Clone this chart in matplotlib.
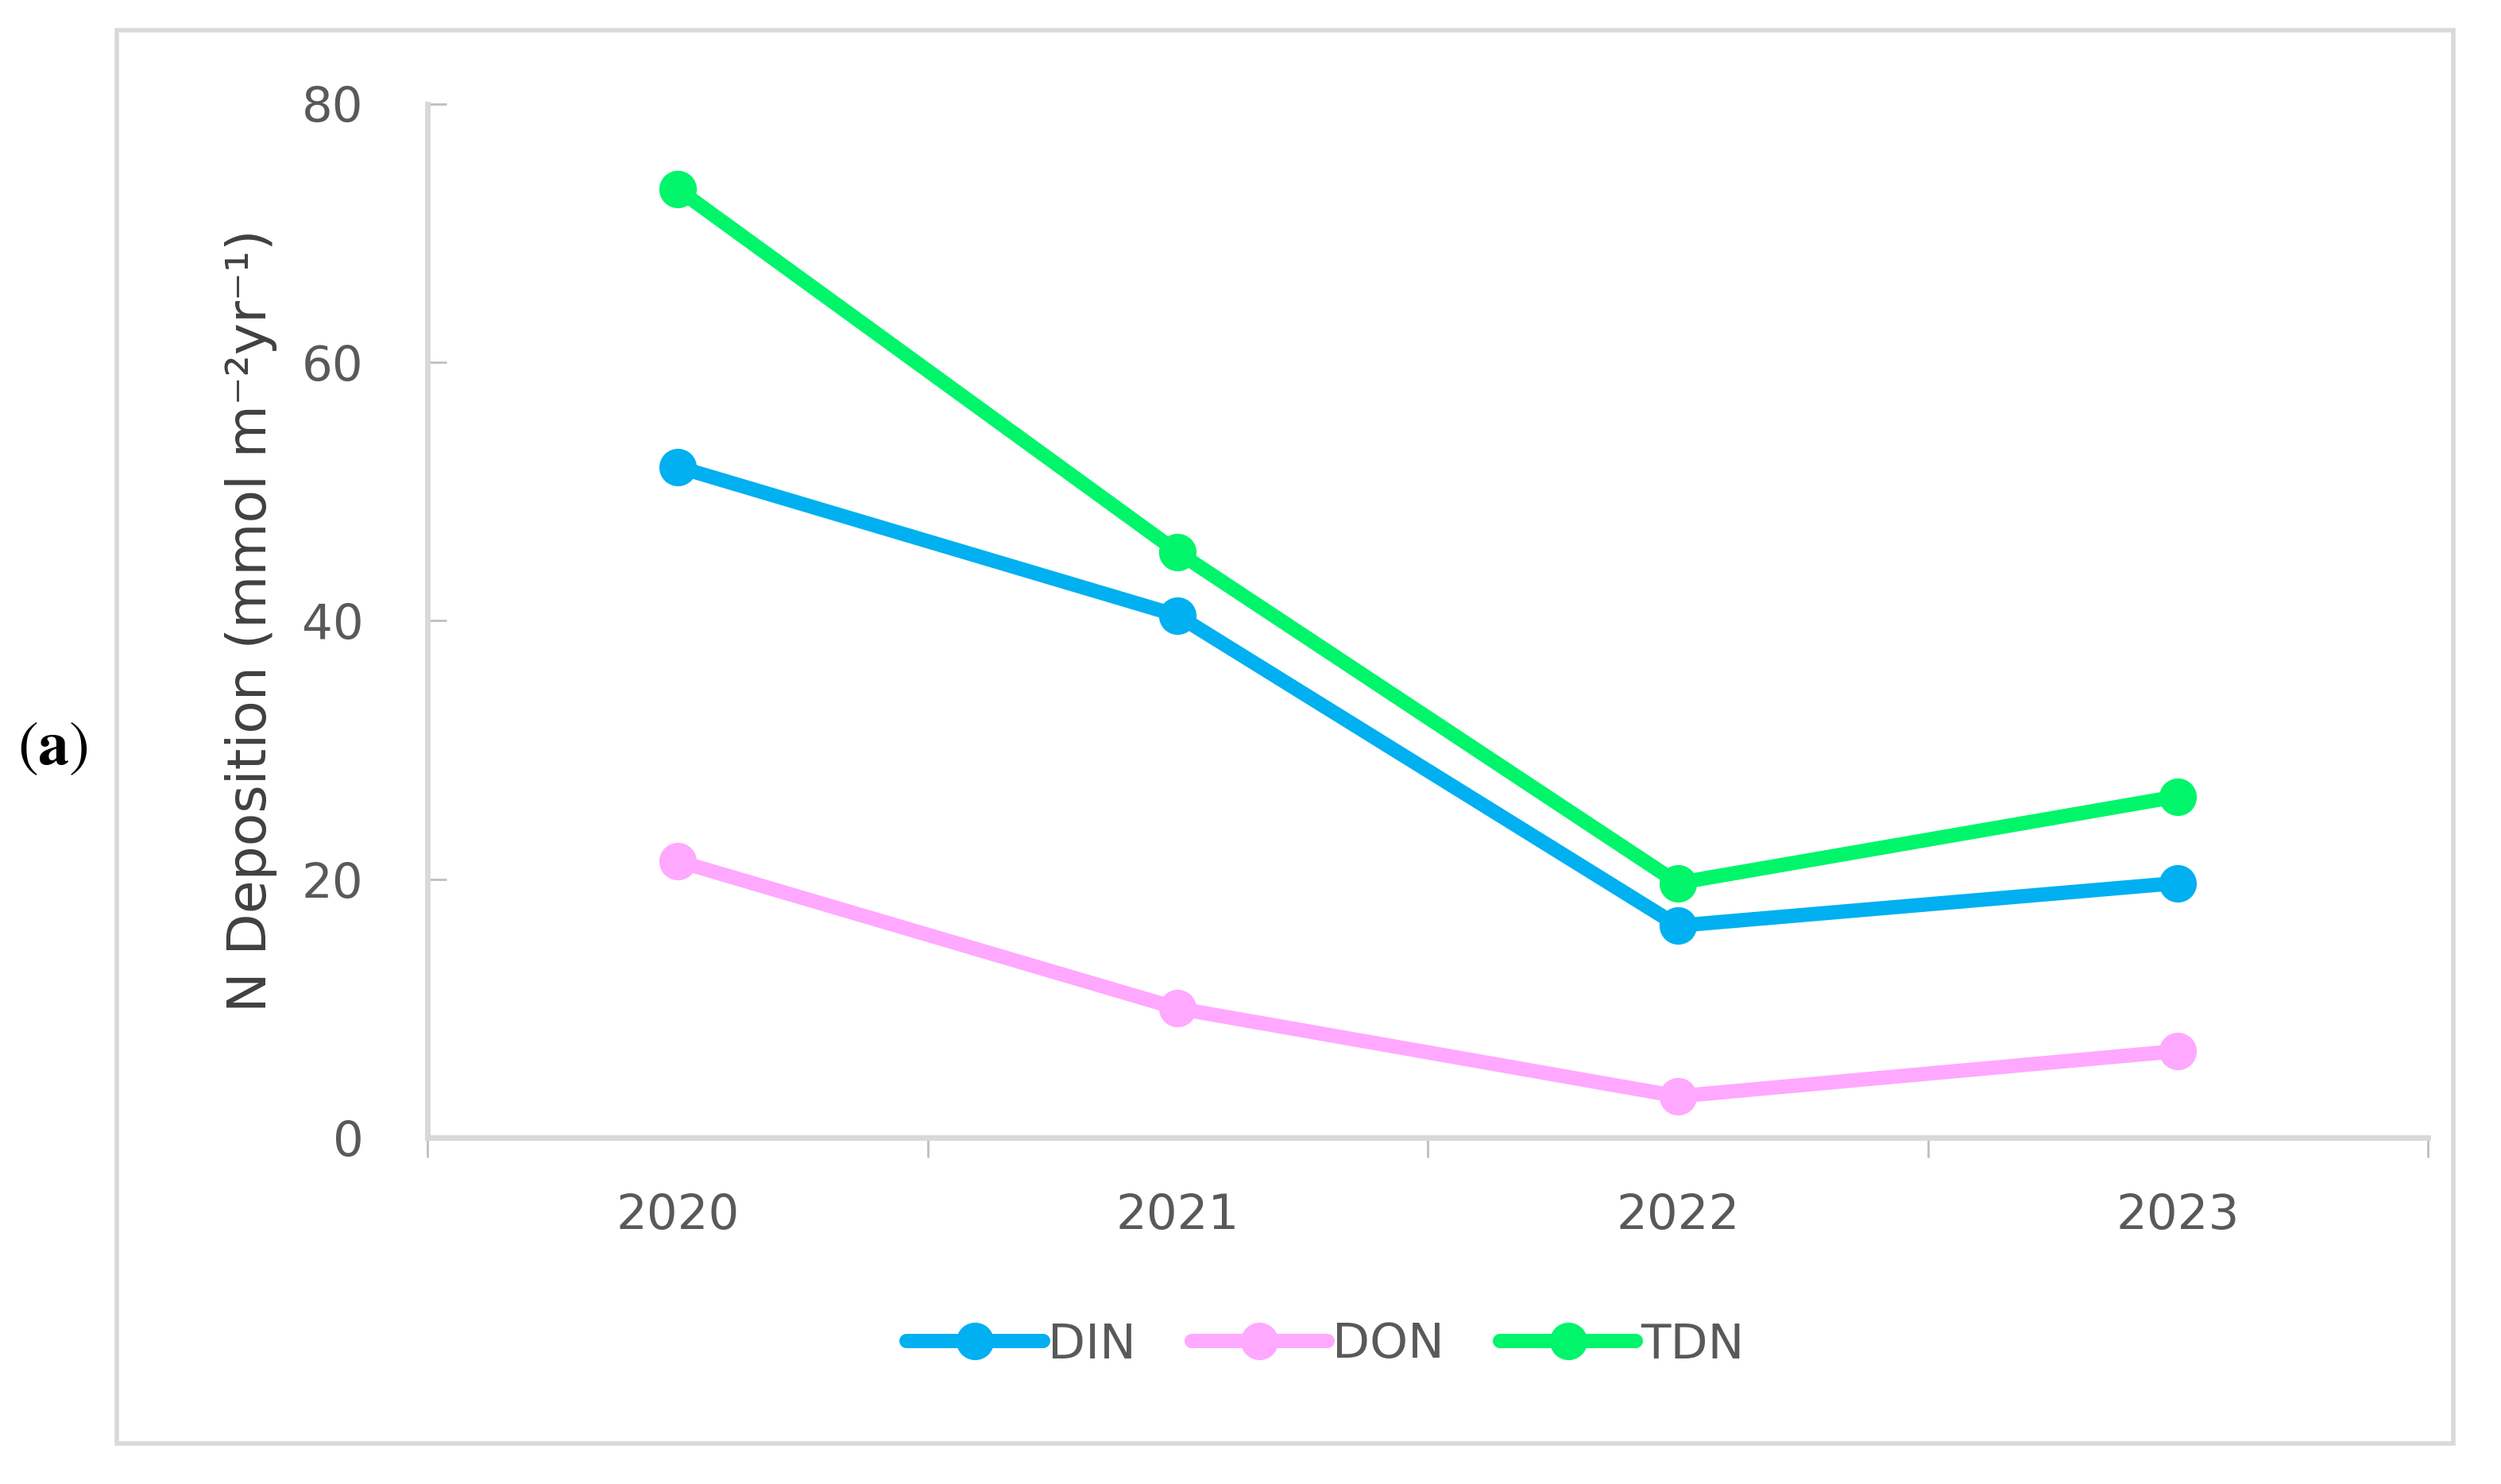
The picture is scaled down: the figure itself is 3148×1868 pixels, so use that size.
import matplotlib
matplotlib.use("Agg")
import matplotlib.pyplot as plt
from matplotlib.patches import Rectangle
from matplotlib.ticker import FixedLocator

years = ["2020", "2021", "2022", "2023"]
din = [51.9, 40.4, 16.4, 19.7]
don = [21.4, 10.0, 3.2, 6.7]
tdn = [73.4, 45.3, 19.7, 26.4]

series = [("DIN", din, "#00B0F0"), ("DON", don, "#FFA8FF"), ("TDN", tdn, "#00F56A")]

W, H, DPI = 3148, 1868, 200
fig = plt.figure(figsize=(W / DPI, H / DPI), dpi=DPI)

# light frame round the chart area
fig.add_artist(Rectangle((147 / W, 1 - 1817 / H), (3088 - 147) / W, (1817 - 38) / H,
                         transform=fig.transFigure, fill=False,
                         edgecolor="#D9D9D9", linewidth=2.0))

ax = fig.add_axes([538 / W, 1 - 1432 / H, (3056 - 538) / W, (1432 - 130.5) / H])

x = list(range(len(years)))
for name, vals, col in series:
    ax.plot(x, vals, color=col, lw=6.5, marker="o", ms=16, label=name,
            solid_capstyle="round", solid_joinstyle="round")

ax.set_xlim(-0.5, len(years) - 0.5)
ax.set_ylim(0, 80)
ax.set_yticks([0, 20, 40, 60, 80])
ax.set_xticks(x)
ax.set_xticklabels(years)
ax.xaxis.set_minor_locator(FixedLocator([i - 0.5 for i in range(len(years) + 1)]))

for s in ["top", "right"]:
    ax.spines[s].set_visible(False)
for s in ["left", "bottom"]:
    ax.spines[s].set_color("#D9D9D9")
    ax.spines[s].set_linewidth(2.5)

ax.tick_params(axis="y", direction="in", length=8.5, width=1, color="#BFBFBF",
               pad=29, labelsize=22, labelcolor="#595959")
ax.tick_params(axis="x", which="major", length=0, pad=25, labelsize=22,
               labelcolor="#595959")
ax.tick_params(axis="x", which="minor", direction="out", length=9, width=1,
               color="#BFBFBF")

ax.set_ylabel("N Deposition (mmol m\u207b\u00b2yr\u207b\u00b9)", fontsize=24.5,
              color="#404040", labelpad=11)

fig.legend(loc="center", bbox_to_anchor=(0.53, 1 - 1693 / H), ncol=3, frameon=False,
           fontsize=22, labelcolor="#595959", handlelength=2.8, handletextpad=0.1,
           columnspacing=1.15, numpoints=1)

fig.text(22 / W, 1 - 940 / H, r"$(\mathbf{a})$", fontsize=28, va="center", ha="left",
         math_fontfamily="stix")

fig.savefig("out.png", dpi=DPI)
